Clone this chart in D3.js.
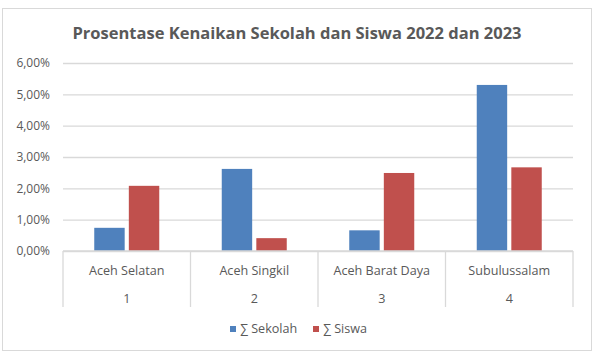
<!DOCTYPE html>
<html lang="id">
<head>
<meta charset="UTF-8">
<title>Prosentase Kenaikan</title>
<script src="https://d3js.org/d3.v7.min.js"></script>
<style>
  body { margin: 0; background: #fff; }
  svg { display: block; font-family: "Open Sans", sans-serif; }
</style>
</head>
<body>
<div id="chart"></div>
<script>
// data
var categories = ["Aceh Selatan", "Aceh Singkil", "Aceh Barat Daya", "Subulussalam"]
var numbers = ["1", "2", "3", "4"]
var seriesNames = ["\u2211 Sekolah", "\u2211 Siswa"]
var sekolah = [0.0074, 0.0262, 0.0066, 0.0530]
var siswa = [0.0208, 0.0041, 0.0249, 0.0267]
var yTicks = [0, 0.01, 0.02, 0.03, 0.04, 0.05, 0.06]
var colors = ["#4F81BD", "#C0504D"]

var width = 597, height = 358
var margin = {top: 63, right: 24, bottom: 107, left: 63}
var textColor = "#595959"
var gridColor = "#d9d9d9"

var locale = d3.formatLocale({decimal: ",", thousands: ".", grouping: [3], currency: ["", ""]})
var pct = locale.format(".2%")

var svg = d3.select("#chart").append("svg")
    .attr("width", width)
    .attr("height", height)

// chart area border
svg.append("rect")
    .attr("x", 2.5).attr("y", 8.5)
    .attr("width", 589).attr("height", 342)
    .attr("fill", "#fff")
    .attr("stroke", gridColor)

svg.append("text")
    .attr("x", 297).attr("y", 39)
    .attr("text-anchor", "middle")
    .attr("font-size", "16.5px")
    .attr("font-weight", "bold")
    .attr("fill", textColor)
    .text("Prosentase Kenaikan Sekolah dan Siswa 2022 dan 2023")

var x0 = d3.scaleBand()
    .domain(categories)
    .range([margin.left, width - margin.right])

var x1 = d3.scaleBand()
    .domain(seriesNames)
    .range([0, 65])
    .paddingInner(0.12)

var y = d3.scaleLinear()
    .domain([0, 0.06])
    .range([height - margin.bottom, margin.top])

// gridlines + y labels
var yAxis = d3.axisLeft(y)
    .tickValues(yTicks)
    .tickFormat(pct)
    .tickSize(-(width - margin.left - margin.right))
    .tickPadding(13)

var gy = svg.append("g")
    .attr("transform", `translate(${margin.left},0)`)
    .call(yAxis)
gy.select(".domain").remove()
gy.selectAll(".tick line").attr("stroke", gridColor).attr("stroke-width", 1.3)
gy.selectAll(".tick text")
    .attr("fill", textColor)
    .attr("font-size", "12px")
    .attr("font-family", "Open Sans, sans-serif")

// bars
var rows = categories.map((c, i) => ({cat: c, vals: [sekolah[i], siswa[i]]}))

var groups = svg.append("g").selectAll("g")
  .data(rows)
  .join("g")
    .attr("transform", d => `translate(${x0(d.cat) + (x0.bandwidth() - 65) / 2},0)`)

groups.selectAll("rect")
  .data(d => d.vals.map((v, j) => ({key: seriesNames[j], v: v, j: j})))
  .join("rect")
    .attr("x", d => x1(d.key))
    .attr("width", x1.bandwidth())
    .attr("y", d => y(d.v))
    .attr("height", d => y(0) - y(d.v))
    .attr("fill", d => colors[d.j])

// category axis with separators
var base = y(0)
svg.append("line")
    .attr("x1", margin.left).attr("x2", width - margin.right)
    .attr("y1", base).attr("y2", base)
    .attr("stroke", gridColor).attr("stroke-width", 1.3)

var seps = categories.map(c => x0(c)).concat([x0.range()[1]])
svg.append("g").selectAll("line")
  .data(seps)
  .join("line")
    .attr("x1", d => d).attr("x2", d => d)
    .attr("y1", base).attr("y2", base + 56)
    .attr("stroke", gridColor).attr("stroke-width", 1.3)

svg.append("g").selectAll("text")
  .data(categories)
  .join("text")
    .attr("x", d => x0(d) + x0.bandwidth() / 2)
    .attr("y", base + 24)
    .attr("text-anchor", "middle")
    .attr("font-size", "12.6px")
    .attr("fill", textColor)
    .text(d => d)

svg.append("g").selectAll("text")
  .data(numbers)
  .join("text")
    .attr("x", (d, i) => x0(categories[i]) + x0.bandwidth() / 2)
    .attr("y", base + 52)
    .attr("text-anchor", "middle")
    .attr("font-size", "12.6px")
    .attr("fill", textColor)
    .text(d => d)

// legend
var legend = svg.append("g").attr("transform", "translate(230,333)")
var legX = [0, 83]
seriesNames.forEach(function(name, i) {
  var g = legend.append("g").attr("transform", `translate(${legX[i]},0)`)
  g.append("rect")
      .attr("x", 0).attr("y", -7)
      .attr("width", 6).attr("height", 6)
      .attr("fill", colors[i])
  g.append("text")
      .attr("x", 10).attr("y", 0)
      .attr("font-size", "12.6px")
      .attr("fill", textColor)
      .text(name)
})
</script>
</body>
</html>
